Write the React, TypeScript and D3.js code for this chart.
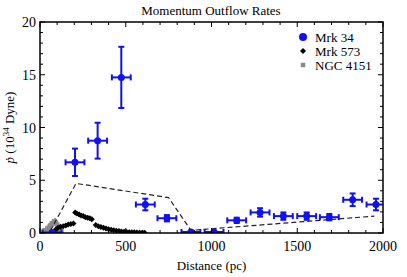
import { useMemo } from 'react';
import * as d3 from 'd3';

const WIDTH = 407;
const HEIGHT = 277;
const MARGIN = { top: 22, right: 24, bottom: 44, left: 40 };

// Mrk 34: distance (pc), momentum rate (1e34 dyne), errors
const mrk34X = [70, 204, 336, 474, 614, 740, 880, 1015, 1147, 1283, 1419, 1555, 1687, 1823, 1959];
const mrk34Y = [0.05, 6.7, 8.75, 14.75, 2.7, 1.4, 0.1, 0.1, 1.2, 1.95, 1.6, 1.6, 1.5, 3.15, 2.7];
const mrk34YErr = [0.1, 1.3, 1.7, 2.9, 0.55, 0.3, 0.1, 0.1, 0.25, 0.4, 0.35, 0.35, 0.3, 0.6, 0.55];
const mrk34XErr = 55;

const mrk573X = [90, 105, 120, 135, 150, 165, 180, 195, 205, 215, 228, 240, 252, 265, 278, 290, 302, 325, 340, 355, 370, 385, 400, 415, 430, 445, 460, 475, 490, 505, 520, 535, 550, 565, 580, 595, 610];
const mrk573Y = [0.3, 0.5, 0.6, 0.65, 0.7, 0.8, 0.85, 0.9, 1.95, 1.85, 1.75, 1.65, 1.6, 1.5, 1.45, 1.4, 1.3, 0.75, 0.65, 0.58, 0.5, 0.42, 0.35, 0.3, 0.26, 0.22, 0.18, 0.15, 0.12, 0.1, 0.08, 0.07, 0.06, 0.05, 0.04, 0.03, 0.03];

const ngc4151X = [20, 35, 50, 62, 75, 88, 100, 112, 125];
const ngc4151Y = [0.1, 0.25, 0.5, 0.75, 0.95, 1.05, 0.8, 0.45, 0.15];

const modelX = [60, 210, 750, 880, 1950];
const modelY = [0.2, 4.7, 3.35, 0.25, 1.6];

const xTicks = [0, 500, 1000, 1500, 2000];
const yTicks = [0, 5, 10, 15, 20];

const legendItems = ['Mrk 34', 'Mrk 573', 'NGC 4151'];

const BLUE = '#1010f0';
const FONT = 'Liberation Serif';

export default function App() {
  const boundsWidth = WIDTH - MARGIN.left - MARGIN.right;
  const boundsHeight = HEIGHT - MARGIN.top - MARGIN.bottom;

  const xScale = useMemo(() => d3.scaleLinear().domain([0, 2000]).range([0, boundsWidth]), [boundsWidth]);
  const yScale = useMemo(() => d3.scaleLinear().domain([0, 20]).range([boundsHeight, 0]), [boundsHeight]);

  const minorX = d3.range(0, 2001, 100);
  const minorY = d3.range(0, 21, 1);

  const lineBuilder = d3
    .line<number>()
    .x((d, i) => xScale(modelX[i]))
    .y((d) => yScale(d));

  // small rhombus marker for Mrk 573
  const diamond = 'M0,-3L3,0L0,3L-3,0Z';
  const square = d3.symbol().type(d3.symbolSquare).size(20)();

  return (
    <svg width={WIDTH} height={HEIGHT} style={{ position: 'absolute', left: 0, top: 0 }} fontFamily={FONT}>
      <rect width={WIDTH} height={HEIGHT} fill="white" />
      <text x={211} y={15} textAnchor="middle" fontSize={13}>
        Momentum Outflow Rates
      </text>
      <g transform={`translate(${MARGIN.left},${MARGIN.top})`}>
        <defs>
          <clipPath id="plotclip">
            <rect width={boundsWidth} height={boundsHeight} />
          </clipPath>
        </defs>
        <g clipPath="url(#plotclip)">
          {/* NGC 4151 */}
          {ngc4151X.map((x, i) => (
            <g key={'n' + i} transform={`translate(${xScale(x)},${yScale(ngc4151Y[i])})`}>
              <line x1={0} x2={0} y1={-4} y2={4} stroke="#8a8a8a" strokeWidth={2} />
              <path d={square!} fill="#8a8a8a" />
            </g>
          ))}
          {/* Mrk 573 */}
          {mrk573X.map((x, i) => (
            <path
              key={'k' + i}
              d={diamond}
              transform={`translate(${xScale(x)},${yScale(mrk573Y[i])})`}
              fill="black"
            />
          ))}
          {/* model line */}
          <path d={lineBuilder(modelY)!} fill="none" stroke="#222" strokeWidth={1.2} strokeDasharray="5,3" />
          {/* Mrk 34 */}
          {mrk34X.map((x, i) => {
            const cx = xScale(x);
            const cy = yScale(mrk34Y[i]);
            const x0 = xScale(x - mrk34XErr);
            const x1 = xScale(x + mrk34XErr);
            const y0 = yScale(mrk34Y[i] - mrk34YErr[i]);
            const y1 = yScale(mrk34Y[i] + mrk34YErr[i]);
            return (
              <g key={'m' + i} stroke={BLUE} strokeWidth={2}>
                <line x1={x0} x2={x1} y1={cy} y2={cy} />
                <line x1={x0} x2={x0} y1={cy - 3} y2={cy + 3} />
                <line x1={x1} x2={x1} y1={cy - 3} y2={cy + 3} />
                <line x1={cx} x2={cx} y1={y0} y2={y1} />
                <line x1={cx - 3} x2={cx + 3} y1={y0} y2={y0} />
                <line x1={cx - 3} x2={cx + 3} y1={y1} y2={y1} />
                <circle cx={cx} cy={cy} r={3.5} fill={BLUE} stroke="none" />
              </g>
            );
          })}
        </g>

        {/* frame */}
        <rect width={boundsWidth} height={boundsHeight} fill="none" stroke="black" strokeWidth={1.5} />
        {minorX.map((t) => {
          const len = t % 500 === 0 ? 5 : 3;
          return (
            <g key={'tx' + t} stroke="black" strokeWidth={1}>
              <line x1={xScale(t)} x2={xScale(t)} y1={boundsHeight} y2={boundsHeight - len} />
              <line x1={xScale(t)} x2={xScale(t)} y1={0} y2={len} />
            </g>
          );
        })}
        {minorY.map((t) => {
          const len = t % 5 === 0 ? 5 : 3;
          return (
            <g key={'ty' + t} stroke="black" strokeWidth={1}>
              <line x1={0} x2={len} y1={yScale(t)} y2={yScale(t)} />
              <line x1={boundsWidth} x2={boundsWidth - len} y1={yScale(t)} y2={yScale(t)} />
            </g>
          );
        })}
        {xTicks.map((t) => (
          <text key={'lx' + t} x={xScale(t)} y={boundsHeight + 18} textAnchor="middle" fontSize={14}>
            {t}
          </text>
        ))}
        {yTicks.map((t) => (
          <text key={'ly' + t} x={-4} y={yScale(t) + 5} textAnchor="end" fontSize={14}>
            {t}
          </text>
        ))}

        <text x={boundsWidth / 2} y={boundsHeight + 37} textAnchor="middle" fontSize={13}>
          Distance (pc)
        </text>
        <text transform={`translate(${-26},${boundsHeight / 2}) rotate(-90)`} textAnchor="middle" fontSize={13}>
          <tspan fontStyle="italic">ṗ</tspan> (10<tspan dy={-5} fontSize={9}>34</tspan>
          <tspan dy={5}> Dyne)</tspan>
        </text>

        {/* legend */}
        {legendItems.map((name, i) => {
          const ly = 15 + i * 14;
          return (
            <g key={name} transform={`translate(${263},${ly})`}>
              {i === 0 && <circle r={4} fill={BLUE} />}
              {i === 1 && <path d={diamond} fill="black" />}
              {i === 2 && <path d={square!} fill="#8a8a8a" />}
              <text x={12} y={4.5} fontSize={13}>
                {name}
              </text>
            </g>
          );
        })}
      </g>
    </svg>
  );
}
